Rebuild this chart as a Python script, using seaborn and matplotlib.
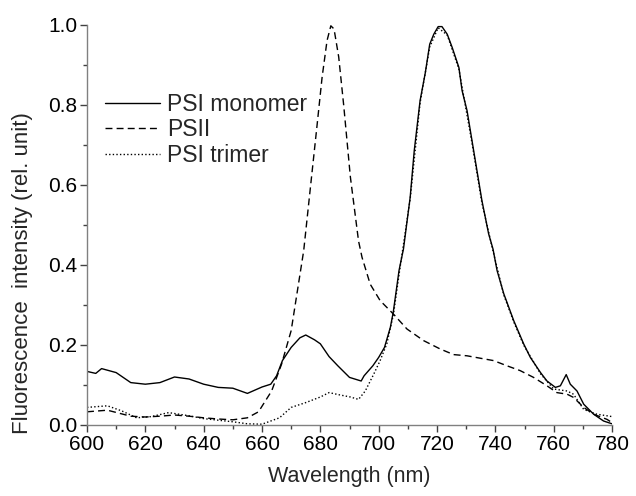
import numpy as np
import pandas as pd
import seaborn as sns
import matplotlib
matplotlib.use("Agg")
import matplotlib.pyplot as plt
from matplotlib.ticker import MultipleLocator

# PSI monomer (solid)
mono_wl = [600, 603, 605, 610, 615, 620, 625, 630, 635, 640, 645, 650, 655, 660, 663, 665, 667,
           670, 673, 675, 678, 680, 683, 686, 690, 694, 695, 698, 700, 702, 704, 705, 707, 708.5,
           710.8, 712.2, 714.2, 716, 717.5, 718.9, 720.4, 721.7, 723.5, 725.2, 727.5, 728.6, 730.3,
           732, 733.7, 735.4, 737.7, 739.2, 740.6, 742.9, 746.3, 749.7, 752, 755.5, 757.7, 760.6,
           762.3, 764.3, 765.7, 768, 770.3, 773.7, 777.1, 780]
mono_val = [0.134, 0.129, 0.141, 0.131, 0.106, 0.102, 0.106, 0.120, 0.115, 0.102, 0.094, 0.092,
            0.079, 0.095, 0.102, 0.123, 0.161, 0.194, 0.218, 0.225, 0.213, 0.203, 0.171, 0.148,
            0.119, 0.110, 0.123, 0.148, 0.169, 0.194, 0.244, 0.282, 0.387, 0.44, 0.569, 0.686,
            0.811, 0.881, 0.952, 0.977, 0.996, 0.996, 0.977, 0.944, 0.894, 0.836, 0.786, 0.711,
            0.636, 0.561, 0.478, 0.44, 0.386, 0.328, 0.261, 0.203, 0.169, 0.131, 0.110, 0.094,
            0.098, 0.126, 0.102, 0.085, 0.052, 0.027, 0.010, 0.003]

# PSII (dashed)
psii_wl = [600, 607, 615, 620, 625, 630, 635, 640, 645, 650, 655, 658.8, 663.3, 666.7, 670,
           674.3, 676.6, 678.8, 680.6, 682.3, 683.6, 684.7, 686.3, 688, 690.3, 693.1, 694.3,
           697.1, 700.5, 705.1, 709.7, 715.4, 721.1, 725.7, 730.3, 734.8, 739.4, 744, 748.5,
           753.1, 757.7, 761.1, 764.6, 766.8, 770.3, 773.7, 778.3, 780]
psii_val = [0.033, 0.037, 0.022, 0.020, 0.022, 0.025, 0.022, 0.018, 0.015, 0.013, 0.018, 0.033,
            0.085, 0.152, 0.236, 0.436, 0.594, 0.744, 0.869, 0.961, 0.998, 0.99, 0.92, 0.80,
            0.62, 0.46, 0.419, 0.352, 0.311, 0.277, 0.240, 0.211, 0.190, 0.176, 0.173, 0.167,
            0.161, 0.148, 0.136, 0.119, 0.098, 0.081, 0.077, 0.069, 0.044, 0.027, 0.014, 0.006]

# PSI trimer (dotted)
tri_wl = [600, 607, 612, 617, 622, 628, 635, 640, 645, 650, 655, 660, 663, 666, 670, 675, 680,
          683, 686.8, 690.3, 693.1, 695.4, 698.3, 700.5, 702.8, 705.1, 707.2, 710.8, 714.2, 717.5,
          720.4, 723.5, 727.5, 732, 735.4, 739.2, 742.9, 746.3, 749.7, 755.5, 760, 764.6, 766.8,
          770.3, 774.8, 778.3, 780]
tri_val = [0.044, 0.048, 0.035, 0.018, 0.021, 0.031, 0.023, 0.016, 0.012, 0.008, 0.003, 0.002,
           0.010, 0.018, 0.044, 0.056, 0.070, 0.081, 0.075, 0.070, 0.064, 0.085, 0.127, 0.161,
           0.203, 0.278, 0.387, 0.565, 0.805, 0.945, 0.993, 0.975, 0.890, 0.705, 0.555, 0.435,
           0.325, 0.258, 0.200, 0.128, 0.09, 0.085, 0.077, 0.039, 0.027, 0.023, 0.021]

labels = ["PSI monomer", "PSII", "PSI trimer"]

sns.set_style("white")
plt.rcParams['font.family'] = ['Liberation Sans', 'DejaVu Sans']

fig = plt.figure(figsize=(6.36, 4.96), dpi=100)
ax = fig.add_axes([87/636, 1 - 425/496, (612-87)/636, 400/496])

series = [(mono_wl, mono_val, labels[0], '-'),
          (psii_wl, psii_val, labels[1], (0, (5, 3))),
          (tri_wl, tri_val, labels[2], (0, (1, 1.6)))]
for wl, val, lab, ls in series:
    df = pd.DataFrame({"wl": wl, "val": val})
    sns.lineplot(data=df, x="wl", y="val", ax=ax, color="black", linewidth=1.0,
                 linestyle=ls, label=lab, estimator=None, sort=False)

ax.set_xlim(600, 780)
ax.set_ylim(0, 1.0)
ax.xaxis.set_major_locator(MultipleLocator(20))
ax.xaxis.set_minor_locator(MultipleLocator(10))
ax.yaxis.set_major_locator(MultipleLocator(0.2))
ax.yaxis.set_minor_locator(MultipleLocator(0.1))
ax.yaxis.set_major_formatter(matplotlib.ticker.FormatStrFormatter('%.1f'))

for side in ["top", "right"]:
    ax.spines[side].set_visible(False)
for side in ["left", "bottom"]:
    ax.spines[side].set_color("#808080")
    ax.spines[side].set_linewidth(1.0)

ax.tick_params(which="major", direction="out", length=5, width=1, color="#404040",
               labelsize=15, labelcolor="black", pad=2, left=True, bottom=True)
ax.tick_params(which="minor", direction="out", length=3, width=1, color="#404040",
               left=True, bottom=True)

ax.set_xlabel("Wavelength (nm)", fontsize=15.5, labelpad=9)
ax.set_ylabel("Fluorescence  intensity (rel. unit)", fontsize=16)
ax.yaxis.set_label_coords(-0.103, 0.38)

leg = ax.legend(loc="upper left", bbox_to_anchor=(0.034, 0.83), frameon=False, fontsize=16.5,
                handlelength=2.4, handletextpad=0.3, labelspacing=0.1, borderaxespad=0,
                borderpad=0)

fig.savefig("out.png", dpi=100)
